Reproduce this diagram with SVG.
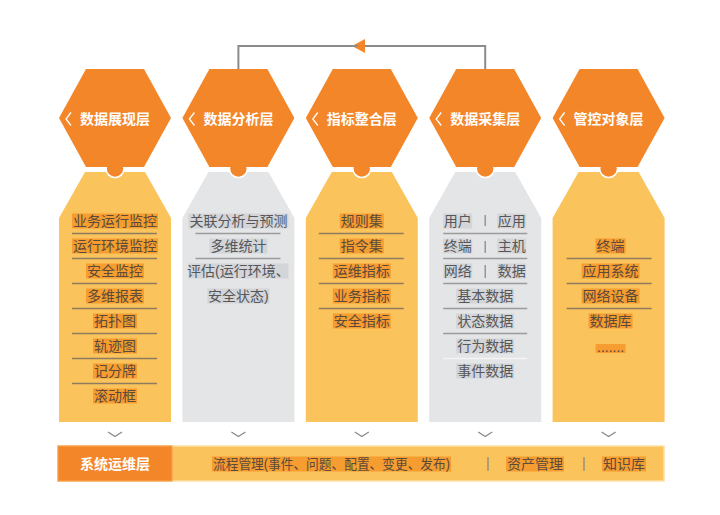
<svg xmlns="http://www.w3.org/2000/svg" width="720" height="515" viewBox="0 0 720 515">
<style>
text{font-family:"Liberation Sans","Noto Sans CJK SC",sans-serif;font-size:14px;}
.hex{fill:#f4862a;}
.bump{fill:#f4862a;stroke:#ffffff;stroke-width:1.6;}
.coly{fill:#fbc35c;}
.colg{fill:#e4e5e7;}
.ht{fill:#ffffff;font-weight:bold;}
.chev{fill:none;stroke:#ffffff;stroke-width:1.3;}
.ty{fill:#5c4a3a;text-anchor:middle;}
.tg{fill:#555759;text-anchor:middle;}
.hy{fill:#f59d30;}
.hg{fill:#d4d5d8;}
.ly{stroke:#8f7c5e;stroke-width:1.5;}
.lg{stroke:#9a9b9d;stroke-width:1.5;}
.lw{stroke:#f4f4f4;stroke-width:1.5;}
.sep{stroke:#8a8a8a;stroke-width:1.3;}
.down{fill:none;stroke:#8a8a8a;stroke-width:1.3;}
.conn{fill:none;stroke:#8c8c8c;stroke-width:2;}
</style>
<defs>
<polygon id="hexshape" points="-56,118 -29,69 29,69 56,118 29,167 -29,167"/>
<polygon id="colshape" points="-30,172 30,172 56,218 56,422 -56,422 -56,218"/>
<marker id="arr" viewBox="0 0 13 14" refX="12" refY="7" markerWidth="13" markerHeight="14" markerUnits="userSpaceOnUse" orient="auto">
<path d="M0,0 L13,7 L0,14 z" fill="#f4862a"/>
</marker>
</defs>
<rect width="720" height="515" fill="#ffffff"/>

<g id="connectors">
<path class="conn" d="M485.2,69 V46 H353" marker-end="url(#arr)"/>
<path class="conn" d="M358,46 H238.4 V69"/>
</g>

<g id="node-display" transform="translate(115,0)">
<use href="#colshape" class="coly"/>
<circle class="bump" cx="0" cy="168.5" r="9"/>
<use href="#hexshape" class="hex"/>
<polyline class="chev" points="-44,112.5 -49,119 -44,125.5"/>
<text class="ht" x="-35" y="124">数据展现层</text>
<rect class="hy" x="-43" y="213.5" width="86" height="15"/><text class="ty" x="0" y="226.3">业务运行监控</text>
<line class="ly" x1="-43" y1="233.5" x2="42" y2="233.5"/>
<rect class="hy" x="-43" y="238.5" width="86" height="15"/><text class="ty" x="0" y="251.3">运行环境监控</text>
<line class="ly" x1="-43" y1="258.5" x2="42" y2="258.5"/>
<rect class="hy" x="-29" y="263.5" width="58" height="15"/><text class="ty" x="0" y="276.3">安全监控</text>
<line class="ly" x1="-43" y1="283.5" x2="42" y2="283.5"/>
<rect class="hy" x="-29" y="288.5" width="58" height="15"/><text class="ty" x="0" y="301.3">多维报表</text>
<line class="ly" x1="-43" y1="308.5" x2="42" y2="308.5"/>
<rect class="hy" x="-22" y="313.5" width="44" height="15"/><text class="ty" x="0" y="326.3">拓扑图</text>
<line class="ly" x1="-43" y1="333.5" x2="42" y2="333.5"/>
<rect class="hy" x="-22" y="338.5" width="44" height="15"/><text class="ty" x="0" y="351.3">轨迹图</text>
<line class="ly" x1="-43" y1="358.5" x2="42" y2="358.5"/>
<rect class="hy" x="-22" y="363.5" width="44" height="15"/><text class="ty" x="0" y="376.3">记分牌</text>
<line class="ly" x1="-43" y1="383.5" x2="42" y2="383.5"/>
<rect class="hy" x="-22" y="388.5" width="44" height="15"/><text class="ty" x="0" y="401.3">滚动框</text>
<polyline class="down" points="-7,432 0,436.5 7,432"/>
</g>

<g id="node-analysis" transform="translate(238.4,0)">
<use href="#colshape" class="colg"/>
<circle class="bump" cx="0" cy="168.5" r="9"/>
<use href="#hexshape" class="hex"/>
<polyline class="chev" points="-44,112.5 -49,119 -44,125.5"/>
<text class="ht" x="-35" y="124">数据分析层</text>
<rect class="hg" x="-50" y="213.5" width="100" height="15"/><text class="tg" x="0" y="226.3">关联分析与预测</text>
<line class="lg" x1="-43" y1="233.5" x2="42" y2="233.5"/>
<rect class="hg" x="-29" y="238.5" width="58" height="15"/><text class="tg" x="0" y="251.3">多维统计</text>
<line class="lg" x1="-43" y1="258.5" x2="42" y2="258.5"/>
<rect class="hg" x="-50" y="263.5" width="100" height="15"/><text class="tg" x="0" y="276.3">评估(运行环境、</text>
<rect class="hg" x="-31" y="288.5" width="62" height="15"/><text class="tg" x="0" y="301.3">安全状态)</text>
<polyline class="down" points="-7,432 0,436.5 7,432"/>
</g>

<g id="node-metrics" transform="translate(361.8,0)">
<use href="#colshape" class="coly"/>
<circle class="bump" cx="0" cy="168.5" r="9"/>
<use href="#hexshape" class="hex"/>
<polyline class="chev" points="-44,112.5 -49,119 -44,125.5"/>
<text class="ht" x="-35" y="124">指标整合层</text>
<rect class="hy" x="-22" y="213.5" width="44" height="15"/><text class="ty" x="0" y="226.3">规则集</text>
<line class="ly" x1="-43" y1="233.5" x2="42" y2="233.5"/>
<rect class="hy" x="-22" y="238.5" width="44" height="15"/><text class="ty" x="0" y="251.3">指令集</text>
<line class="ly" x1="-43" y1="258.5" x2="42" y2="258.5"/>
<rect class="hy" x="-29" y="263.5" width="58" height="15"/><text class="ty" x="0" y="276.3">运维指标</text>
<line class="ly" x1="-43" y1="283.5" x2="42" y2="283.5"/>
<rect class="hy" x="-29" y="288.5" width="58" height="15"/><text class="ty" x="0" y="301.3">业务指标</text>
<line class="ly" x1="-43" y1="308.5" x2="42" y2="308.5"/>
<rect class="hy" x="-29" y="313.5" width="58" height="15"/><text class="ty" x="0" y="326.3">安全指标</text>
<polyline class="down" points="-7,432 0,436.5 7,432"/>
</g>

<g id="node-collect" transform="translate(485.2,0)">
<use href="#colshape" class="colg"/>
<circle class="bump" cx="0" cy="168.5" r="9"/>
<use href="#hexshape" class="hex"/>
<polyline class="chev" points="-44,112.5 -49,119 -44,125.5"/>
<text class="ht" x="-35" y="124">数据采集层</text>
<rect class="hg" x="-42" y="213.5" width="29" height="15"/><text class="tg" x="-27.5" y="226.3">用户</text>
<line class="sep" x1="0" y1="215" x2="0" y2="226"/>
<rect class="hg" x="12" y="213.5" width="29" height="15"/><text class="tg" x="26.5" y="226.3">应用</text>
<line class="lg" x1="-42" y1="233.5" x2="42" y2="233.5"/>
<rect class="hg" x="-42" y="238.5" width="29" height="15"/><text class="tg" x="-27.5" y="251.3">终端</text>
<line class="sep" x1="0" y1="241" x2="0" y2="253"/>
<rect class="hg" x="12" y="238.5" width="29" height="15"/><text class="tg" x="26.5" y="251.3">主机</text>
<line class="lg" x1="-42" y1="258.5" x2="42" y2="258.5"/>
<rect class="hg" x="-42" y="263.5" width="29" height="15"/><text class="tg" x="-27.5" y="276.3">网络</text>
<line class="sep" x1="0" y1="265" x2="0" y2="278"/>
<rect class="hg" x="12" y="263.5" width="29" height="15"/><text class="tg" x="26.5" y="276.3">数据</text>
<line class="lg" x1="-42" y1="283.5" x2="42" y2="283.5"/>
<rect class="hg" x="-29" y="288.5" width="58" height="15"/><text class="tg" x="0" y="301.3">基本数据</text>
<line class="lg" x1="-42" y1="308.5" x2="42" y2="308.5"/>
<rect class="hg" x="-29" y="313.5" width="58" height="15"/><text class="tg" x="0" y="326.3">状态数据</text>
<line class="lg" x1="-42" y1="333.5" x2="42" y2="333.5"/>
<rect class="hg" x="-29" y="338.5" width="58" height="15"/><text class="tg" x="0" y="351.3">行为数据</text>
<line class="lw" x1="-42" y1="358.5" x2="42" y2="358.5"/>
<rect class="hg" x="-29" y="363.5" width="58" height="15"/><text class="tg" x="0" y="376.3">事件数据</text>
<polyline class="down" points="-7,432 0,436.5 7,432"/>
</g>

<g id="node-objects" transform="translate(608.6,0)">
<use href="#colshape" class="coly"/>
<circle class="bump" cx="0" cy="168.5" r="9"/>
<use href="#hexshape" class="hex"/>
<polyline class="chev" points="-44,112.5 -49,119 -44,125.5"/>
<text class="ht" x="-35" y="124">管控对象层</text>
<rect class="hy" x="-13" y="238.5" width="30" height="15"/><text class="ty" x="2" y="251.3">终端</text>
<line class="ly" x1="-42" y1="258.5" x2="43" y2="258.5"/>
<rect class="hy" x="-27" y="263.5" width="58" height="15"/><text class="ty" x="2" y="276.3">应用系统</text>
<line class="ly" x1="-42" y1="283.5" x2="43" y2="283.5"/>
<rect class="hy" x="-27" y="288.5" width="58" height="15"/><text class="ty" x="2" y="301.3">网络设备</text>
<line class="ly" x1="-42" y1="308.5" x2="43" y2="308.5"/>
<rect class="hy" x="-20" y="313.5" width="44" height="15"/><text class="ty" x="2" y="326.3">数据库</text>
<rect class="hy" x="-13" y="344" width="30" height="9"/><text class="ty" x="2" y="352">.......</text>
<polyline class="down" points="-7,432 0,436.5 7,432"/>
</g>

<g id="node-ops">
<rect x="58" y="446" width="606" height="35" fill="#fbc35c" stroke="#fde0a8" stroke-width="1.5"/>
<rect x="58" y="446" width="114" height="35" fill="#f4862a" stroke="#f8a04c" stroke-width="1.2"/>
<text class="ht" x="115" y="469" text-anchor="middle">系统运维层</text>
<rect class="hy" x="212" y="456.5" width="239" height="15"/>
<text class="ty" x="331.5" y="469" font-size="13" textLength="237" lengthAdjust="spacingAndGlyphs">流程管理(事件、问题、配置、变更、发布)</text>
<line class="sep" x1="488" y1="457" x2="488" y2="471"/>
<rect class="hy" x="506" y="456.5" width="58" height="15"/>
<text class="ty" x="535" y="469">资产管理</text>
<line class="sep" x1="584" y1="457" x2="584" y2="471"/>
<rect class="hy" x="602" y="456.5" width="44" height="15"/>
<text class="ty" x="624" y="469">知识库</text>
</g>
</svg>
